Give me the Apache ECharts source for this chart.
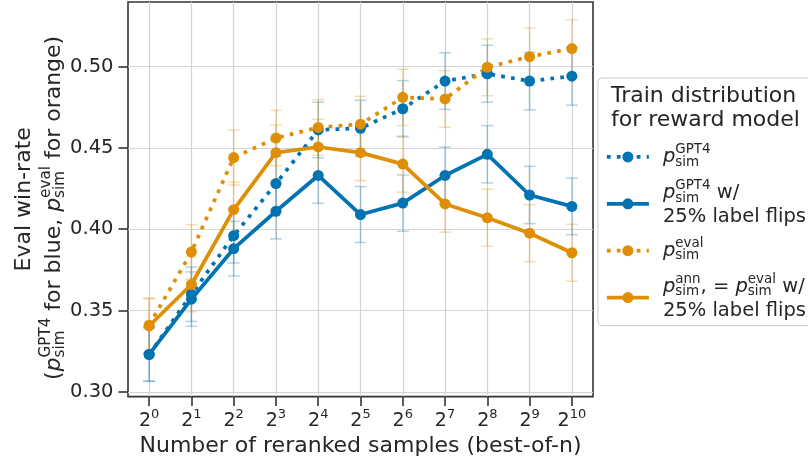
<!DOCTYPE html>
<html><head><meta charset="utf-8">
<script src="https://cdn.jsdelivr.net/npm/echarts@6/dist/echarts.min.js"></script>
<style>html,body{margin:0;padding:0;background:#fff}#c{width:808px;height:462px}</style>
</head><body><div id="c"></div>
<script>
// ---- data ----
const exponents = [0, 1, 2, 3, 4, 5, 6, 7, 8, 9, 10];
const categories = exponents.map(e => '2^' + e);
const yTicks = [0.30, 0.35, 0.40, 0.45, 0.50];
const seriesNames = ['GPT4', 'GPT4 flips', 'eval', 'ann flips'];
const gpt4Sim   = [0.323, 0.360, 0.396, 0.428, 0.461, 0.462, 0.474, 0.491, 0.4955, 0.491, 0.494];
const gpt4Flip  = [0.323, 0.357, 0.388, 0.411, 0.433, 0.409, 0.416, 0.433, 0.446, 0.421, 0.414];
const evalSim   = [0.341, 0.386, 0.444, 0.456, 0.4625, 0.4645, 0.481, 0.480, 0.4995, 0.506, 0.511];
const annFlip   = [0.3405, 0.366, 0.412, 0.447, 0.4505, 0.447, 0.440, 0.4155, 0.407, 0.3975, 0.3855];
const gpt4SimErr  = [0.0165, 0.0167, 0.0168, 0.0170, 0.0171, 0.0172, 0.0173, 0.0174, 0.0175, 0.0177, 0.0178];
const gpt4FlipErr = [0.0164, 0.0167, 0.0168, 0.0170, 0.0171, 0.0172, 0.0173, 0.0174, 0.0176, 0.0176, 0.0174];
const evalSimErr  = [0.0167, 0.0168, 0.0169, 0.0170, 0.0171, 0.0172, 0.0173, 0.0174, 0.0175, 0.0177, 0.0177];
const annFlipErr  = [0.0167, 0.0168, 0.0169, 0.0170, 0.0171, 0.0172, 0.0173, 0.0174, 0.0175, 0.0175, 0.0175];

const BLUE = '#0173b2', ORANGE = '#de8f05', TXT = '#262626', FONT = 'DejaVu Sans';
const values = [gpt4Sim, gpt4Flip, evalSim, annFlip];
const errs = [gpt4SimErr, gpt4FlipErr, evalSimErr, annFlipErr];
const colors = [BLUE, BLUE, ORANGE, ORANGE];
const dotted = [true, false, true, false];
const legendLabels = {
  'GPT4': '{p|p}{sb|sim}{sp|GPT4}',
  'GPT4 flips': '{p|p}{sb|sim}{sp|GPT4} w/\n25% label flips',
  'eval': '{p|p}{sb|sim}{sp|eval}',
  'ann flips': '{p|p}{sb|sim}{sp|ann}, = {p|p}{sb|sim}{sp|eval} w/\n25% label flips'
};

const chart = echarts.init(document.getElementById('c'), null, {renderer: 'canvas'});

const errSeries = values.map((vals, k) => ({
  type: 'custom', silent: true, z: 1, animation: false,
  data: vals.map((v, i) => [i, v - errs[k][i], v + errs[k][i]]),
  encode: {x: 0, y: [1, 2]},
  renderItem: function (params, api) {
    const x = api.value(0), lo = api.value(1), hi = api.value(2);
    const a = api.coord([x, lo]), b = api.coord([x, hi]);
    const st = {stroke: colors[k], lineWidth: 1.5, opacity: 0.3};
    return {type: 'group', children: [
      {type: 'line', shape: {x1: a[0], y1: a[1], x2: b[0], y2: b[1]}, style: st},
      {type: 'line', shape: {x1: a[0] - 6, y1: a[1], x2: a[0] + 6, y2: a[1]}, style: st},
      {type: 'line', shape: {x1: b[0] - 6, y1: b[1], x2: b[0] + 6, y2: b[1]}, style: st}
    ]};
  }
}));

const lineSeries = values.map((vals, k) => ({
  type: 'line', name: seriesNames[k], data: vals, z: 3,
  symbol: 'circle', symbolSize: 11, showSymbol: true, animation: false,
  itemStyle: {color: colors[k], borderWidth: 0},
  lineStyle: {color: colors[k], width: 3.75, type: dotted[k] ? [3.75, 6.2] : 'solid', cap: 'butt'},
  emphasis: {disabled: true}
}));

const subSup = (fs, L, hsup, hsub) => ({
  p: {fontStyle: 'italic', fontSize: fs, lineHeight: L, fontFamily: FONT, color: TXT},
  m: {fontSize: fs, lineHeight: L, fontFamily: FONT, color: TXT},
  sp: {fontSize: fs * 0.69, height: hsup, verticalAlign: 'top', fontFamily: FONT, color: TXT},
  sb: {fontSize: fs * 0.69, height: hsub, width: 0.001, verticalAlign: 'bottom', fontFamily: FONT, color: TXT}
});

const option = {
  backgroundColor: '#ffffff',
  animation: false,
  textStyle: {fontFamily: FONT, color: TXT},
  grid: {left: 128, right: 215, top: 2, bottom: 64, show: true, borderColor: '#333333', borderWidth: 1.6, backgroundColor: 'transparent'},
  title: {
    text: 'Train distribution\nfor reward model', left: 611, top: 84, padding: 0, z: 10,
    textStyle: {fontSize: 22, lineHeight: 24, fontWeight: 'normal', color: TXT, fontFamily: FONT}
  },
  legend: {
    orient: 'vertical', left: 598, top: 78, padding: [65, 20, 4, 7], itemGap: 9,
    itemWidth: 42, itemHeight: 13.75, selectedMode: false,
    backgroundColor: 'rgba(255,255,255,0.8)', borderColor: '#cccccc', borderWidth: 1, borderRadius: 4,
    data: seriesNames,
    lineStyle: {width: 3.75, type: 'inherit'},
    formatter: name => legendLabels[name],
    textStyle: {fontSize: 19.5, lineHeight: 22, color: TXT, fontFamily: FONT, padding: [0, 0, 0, 9],
      rich: subSup(19.5, 26, 11.2, 15.4)}
  },
  xAxis: {
    type: 'category', data: categories, boundaryGap: true,
    axisLine: {show: false},
    axisTick: {show: true, alignWithLabel: true, interval: 0, length: 9.5, lineStyle: {color: '#333333', width: 1.6}},
    axisLabel: {interval: 0, margin: 11, color: TXT,
      formatter: (v, i) => '{b|2}{s|' + exponents[i] + '}',
      rich: {b: {fontSize: 19, lineHeight: 26, fontFamily: FONT, color: TXT},
             s: {fontSize: 13, height: 13.6, verticalAlign: 'top', fontFamily: FONT, color: TXT}}},
    splitLine: {show: true, interval: 0, alignWithLabel: true, lineStyle: {color: '#d4d4d4', width: 1.2}},
    name: 'Number of reranked samples (best-of-n)', nameLocation: 'middle', nameGap: 38,
    nameTextStyle: {fontSize: 22, color: TXT, fontFamily: FONT}
  },
  yAxis: {
    type: 'value', min: 0.2971, max: 0.5396,
    axisLine: {show: false},
    axisTick: {show: true, length: 9.5, customValues: yTicks, lineStyle: {color: '#333333', width: 1.6}},
    axisLabel: {customValues: yTicks, formatter: v => v.toFixed(2), fontSize: 19.5, color: TXT, fontFamily: FONT, margin: 14.5},
    splitLine: {show: true, lineStyle: {color: '#d4d4d4', width: 1.2}},
    name: 'Eval win-rate', nameLocation: 'middle', nameGap: 93,
    nameTextStyle: {fontSize: 22, color: TXT, fontFamily: FONT}
  },
  graphic: [{
    type: 'text', x: 54, y: 380, rotation: Math.PI / 2, z: 10,
    style: {
      text: '{m|(}{p|p}{sb|sim}{sp|GPT4}{m| for blue, }{p|p}{sb|sim}{sp|eval}{m| for orange)}',
      rich: subSup(22, 29, 12.4, 17),
      fontSize: 22, fontFamily: FONT, fill: TXT, align: 'left', verticalAlign: 'middle'
    }
  }],
  series: errSeries.concat(lineSeries)
};
chart.setOption(option);
</script>
</body></html>
